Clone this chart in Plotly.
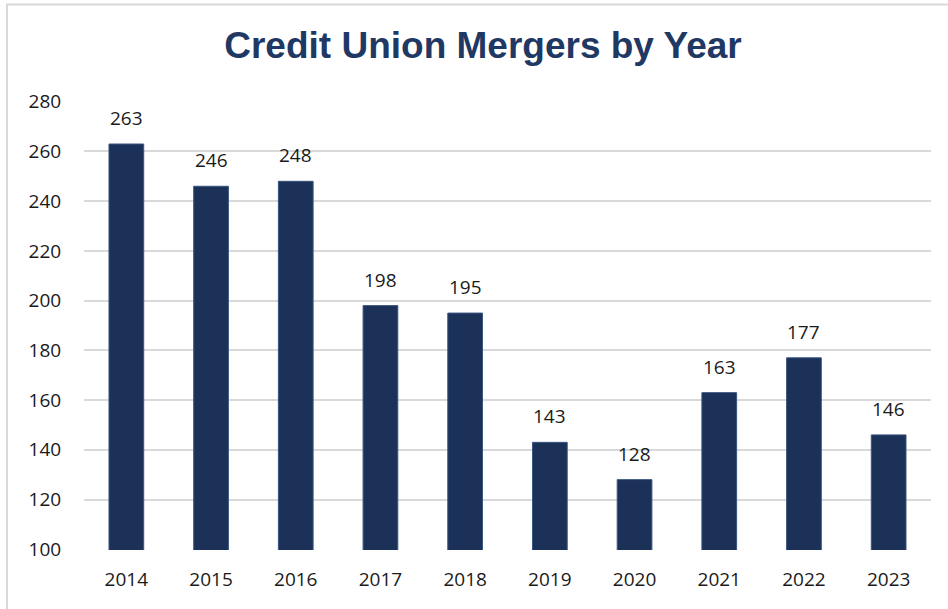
import plotly.graph_objects as go

years = ["2014", "2015", "2016", "2017", "2018", "2019", "2020", "2021", "2022", "2023"]
mergers = [263, 246, 248, 198, 195, 143, 128, 163, 177, 146]
y_ticks = [100, 120, 140, 160, 180, 200, 220, 240, 260, 280]

BAR = "#1B3158"
TXT = "#1a1a1a"
FONT = "Open Sans"

fig = go.Figure()
fig.add_trace(go.Bar(
    x=years, y=mergers,
    marker=dict(color=BAR, line=dict(color="#3A5582", width=1)),
    hoverinfo="x+y",
))

# value labels (category index positions on the category axis)
for i, v in enumerate(mergers):
    fig.add_annotation(x=i, y=v, xref="x", yref="y", text=str(v), showarrow=False,
                       yanchor="bottom", yshift=11,
                       font=dict(family=FONT, size=19, color=TXT))

W, H = 948, 609
ml, mr, mt, mb = 84, 17, 101, 59
pw, ph = W - ml - mr, H - mt - mb
# outer chart border (top and left visible)
fig.add_shape(type="rect", xref="paper", yref="paper",
              x0=(7 - ml) / pw, x1=(W + 5 - ml) / pw,
              y0=-(H + 5 - mt - ph) / ph, y1=(mt - 4.5) / ph + 1,
              line=dict(color="#D9D9D9", width=2), layer="below")

fig.update_layout(
    width=W, height=H,
    margin=dict(l=ml, r=mr, t=mt, b=mb),
    paper_bgcolor="white", plot_bgcolor="white",
    bargap=0.59,
    showlegend=False,
    title=dict(text="<b>Credit Union Mergers by Year</b>", x=483 / W, xanchor="center",
               y=1 - 45 / H, yanchor="middle",
               font=dict(family="Liberation Sans", size=37, color="#1F3864")),
    xaxis=dict(type="category", categoryorder="array", categoryarray=years,
               range=[-0.5, len(years) - 0.5],
               showgrid=False, showline=False, ticks="outside",
               ticklen=12, tickcolor="rgba(0,0,0,0)",
               tickfont=dict(family=FONT, size=19, color=TXT)),
    yaxis=dict(range=[99.7, 280.3], tickvals=y_ticks, showgrid=True,
               gridcolor="#D9D9D9", gridwidth=1.5, zeroline=False,
               showline=False, ticks="outside", ticklen=18, tickcolor="rgba(0,0,0,0)",
               tickfont=dict(family=FONT, size=19, color=TXT)),
)

fig.write_html("out.html", config={"displayModeBar": False},
               post_script="document.body.style.margin='0';document.body.style.overflow='hidden';")
